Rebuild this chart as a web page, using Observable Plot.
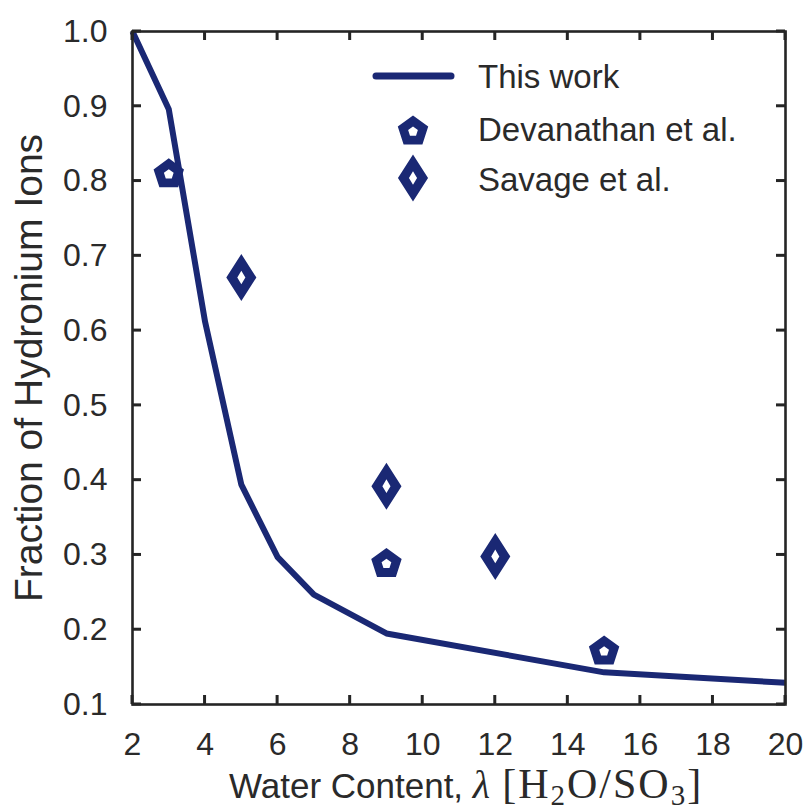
<!DOCTYPE html>
<html>
<head>
<meta charset="utf-8">
<script src="https://cdn.jsdelivr.net/npm/d3@7"></script>
<script src="https://cdn.jsdelivr.net/npm/@observablehq/plot@0.6"></script>
<style>
  html, body { margin: 0; padding: 0; background: #fff; }
  #chart svg { display: block; }
</style>
</head>
<body>
<div id="chart"></div>
<script>
// ---- data ----
const lambdaThisWork = [2, 3, 4, 5, 6, 7, 9, 15, 20];
const fracThisWork   = [1.0, 0.896, 0.612, 0.394, 0.297, 0.247, 0.195, 0.143, 0.129];

const lambdaDevanathan = [3, 9, 15];
const fracDevanathan   = [0.811, 0.290, 0.173];

const lambdaSavage = [5, 9, 12];
const fracSavage   = [0.671, 0.392, 0.298];

const xTicks = [2, 4, 6, 8, 10, 12, 14, 16, 18, 20];
const yTicks = [0.1, 0.2, 0.3, 0.4, 0.5, 0.6, 0.7, 0.8, 0.9, 1.0];

const seriesNames = ["This work", "Devanathan et al.", "Savage et al."];

// ---- styling ----
const NAVY = "#1a2874";
const AXIS = "#252525";
const SANS = "'Liberation Sans', Arial, Helvetica, sans-serif";
const SERIF = "'Liberation Serif', 'Times New Roman', serif";

const W = 806, H = 811, ML = 132, MR = 21, MT = 31, MB = 107;
const TICK = 9;

const lineData = lambdaThisWork.map((x, i) => ({x, y: fracThisWork[i]}));
const devData = lambdaDevanathan.map((x, i) => ({x, y: fracDevanathan[i]}));
const savData = lambdaSavage.map((x, i) => ({x, y: fracSavage[i]}));

// custom symbols (thick outlined shapes with a small hole)
function polygon(ctx, pts) {
  ctx.moveTo(pts[0][0], pts[0][1]);
  for (let i = 1; i < pts.length; i++) ctx.lineTo(pts[i][0], pts[i][1]);
  ctx.closePath();
}
const pentagonSymbol = {
  draw(ctx, size) {
    const R = Math.sqrt(size / Math.PI);
    const Ri = R * 0.32;
    const shift = 0.0955 * R;
    const outer = [], inner = [];
    for (let k = 0; k < 5; k++) {
      const a = -Math.PI / 2 + k * 2 * Math.PI / 5;
      outer.push([R * Math.cos(a), R * Math.sin(a) + shift]);
    }
    for (let k = 4; k >= 0; k--) {
      const a = -Math.PI / 2 + k * 2 * Math.PI / 5;
      inner.push([Ri * Math.cos(a), Ri * Math.sin(a) + shift]);
    }
    polygon(ctx, outer);
    polygon(ctx, inner);
  }
};
const diamondSymbol = {
  draw(ctx, size) {
    const s = Math.sqrt(size / Math.PI);
    const w = s * 0.94, h = s * 1.47;
    const wi = w * 0.27, hi = h * 0.29;
    polygon(ctx, [[0, -h], [w, 0], [0, h], [-w, 0]]);
    polygon(ctx, [[0, -hi], [-wi, 0], [0, hi], [wi, 0]]);
  }
};

const plot = Plot.plot({
  width: W,
  height: H,
  marginLeft: ML,
  marginRight: MR,
  marginTop: MT,
  marginBottom: MB,
  style: {fontFamily: SANS, color: AXIS, background: "#fff", overflow: "visible"},
  x: {domain: [2, 20]},
  y: {domain: [0.1, 1.0]},
  marks: [
    Plot.axisX(xTicks, {anchor: "bottom", tickSize: 0, tickPadding: 28, fontSize: 32, label: null, fill: "#2a2a2a"}),
    Plot.axisY(yTicks, {anchor: "left", tickSize: 0, tickPadding: 25, fontSize: 32, label: null, tickFormat: d3.format(".1f"), fill: "#2a2a2a"}),
    Plot.line(lineData, {x: "x", y: "y", stroke: NAVY, strokeWidth: 6, strokeLinejoin: "round", strokeLinecap: "butt"}),
    Plot.dot(devData, {x: "x", y: "y", symbol: pentagonSymbol, r: 16, fill: NAVY, stroke: "none"}),
    Plot.dot(savData, {x: "x", y: "y", symbol: diamondSymbol, r: 16, fill: NAVY, stroke: "none"}),
    Plot.frame({stroke: AXIS, strokeWidth: 2.6})
  ]
});

document.getElementById("chart").appendChild(plot);

const svg = d3.select(plot);
const xScale = d3.scaleLinear().domain([2, 20]).range([ML, W - MR]);
const yScale = d3.scaleLinear().domain([0.1, 1.0]).range([H - MB, MT]);
const sx = (plot.scale && plot.scale("x") && typeof plot.scale("x").apply === "function") ? plot.scale("x").apply : xScale;
const sy = (plot.scale && plot.scale("y") && typeof plot.scale("y").apply === "function") ? plot.scale("y").apply : yScale;
const x0 = ML, x1 = W - MR, y0 = MT, y1 = H - MB;

// inward tick marks on all four sides, as filled rectangles
const tg = svg.append("g").attr("fill", AXIS).attr("stroke", "none");
const TW = 3;
xTicks.forEach(v => {
  const px = +sx(v);
  tg.append("rect").attr("x", px - TW / 2).attr("y", y1 - TICK).attr("width", TW).attr("height", TICK);
  tg.append("rect").attr("x", px - TW / 2).attr("y", y0).attr("width", TW).attr("height", TICK);
});
yTicks.forEach(v => {
  const py = +sy(v);
  tg.append("rect").attr("x", x0).attr("y", py - TW / 2).attr("width", TICK).attr("height", TW);
  tg.append("rect").attr("x", x1 - TICK).attr("y", py - TW / 2).attr("width", TICK).attr("height", TW);
});

// y-axis label
svg.append("text")
  .attr("transform", "translate(42,368) rotate(-90)")
  .attr("text-anchor", "middle")
  .attr("font-family", SANS)
  .attr("font-size", 39)
  .attr("fill", "#2a2a2a")
  .text("Fraction of Hydronium Ions");

// x-axis label with math part
const xl = svg.append("text")
  .attr("x", 229).attr("y", 798)
  .attr("text-anchor", "start")
  .attr("font-family", SANS)
  .attr("font-size", 35)
  .attr("fill", "#2a2a2a");
xl.append("tspan").text("Water Content, ");
xl.append("tspan").attr("font-family", SERIF).attr("font-style", "italic").attr("font-size", 40).text("λ");
const mathSpan = (t, size, dy, dx) => {
  const s = xl.append("tspan").attr("font-family", SERIF).attr("font-size", size).attr("letter-spacing", 2).text(t);
  if (dy) s.attr("dy", dy);
  if (dx) s.attr("dx", dx);
  return s;
};
mathSpan("[H", 42, 0, 12);
mathSpan("2", 29, 7);
mathSpan("O/SO", 42, -7);
mathSpan("3", 29, 7);
mathSpan("]", 42, -7);

// legend
const lg = svg.append("g").attr("font-family", SANS).attr("font-size", 33).attr("fill", "#2a2a2a").attr("text-anchor", "start");
lg.append("line").attr("x1", 376).attr("x2", 451).attr("y1", 76).attr("y2", 76)
  .attr("stroke", NAVY).attr("stroke-width", 7).attr("stroke-linecap", "round");
const symPath = (sym, r) => { const p = d3.path(); sym.draw(p, r * r * Math.PI); return p.toString(); };
lg.append("path").attr("transform", "translate(413,130)").attr("d", symPath(pentagonSymbol, 16)).attr("fill", NAVY);
lg.append("path").attr("transform", "translate(413,178)").attr("d", symPath(diamondSymbol, 16)).attr("fill", NAVY);
[76, 129, 179].forEach((y, i) => {
  lg.append("text").attr("x", 478).attr("y", y).attr("dy", "0.35em").attr("text-anchor", "start").text(seriesNames[i]);
});
</script>
</body>
</html>
